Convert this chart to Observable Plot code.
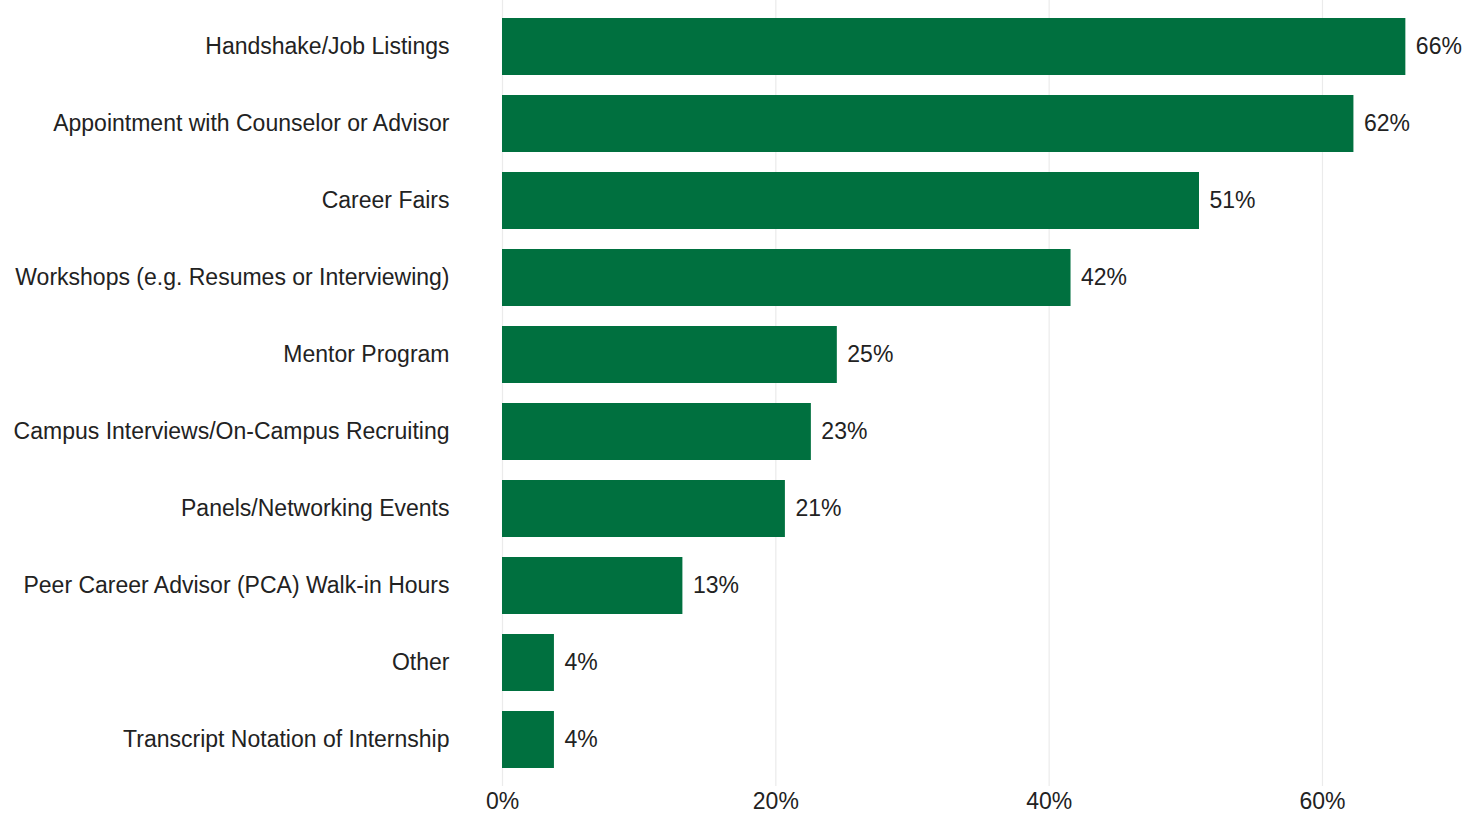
<!DOCTYPE html>
<html>
<head>
<meta charset="utf-8">
<script src="https://cdn.jsdelivr.net/npm/d3@7"></script>
<script src="https://cdn.jsdelivr.net/npm/@observablehq/plot@0.6"></script>
<style>
  html, body { margin: 0; padding: 0; background: #fff; }
  #chart svg { display: block; }
</style>
</head>
<body>
<div id="chart"></div>
<script>
const categories = [
  "Handshake/Job Listings",
  "Appointment with Counselor or Advisor",
  "Career Fairs",
  "Workshops (e.g. Resumes or Interviewing)",
  "Mentor Program",
  "Campus Interviews/On-Campus Recruiting",
  "Panels/Networking Events",
  "Peer Career Advisor (PCA) Walk-in Hours",
  "Other",
  "Transcript Notation of Internship"
];
const values = [0.661, 0.623, 0.510, 0.416, 0.245, 0.226, 0.207, 0.132, 0.038, 0.038];
const valueLabels = ["66%", "62%", "51%", "42%", "25%", "23%", "21%", "13%", "4%", "4%"];
const xTicks = [0, 0.2, 0.4, 0.6];

const data = categories.map((c, i) => ({category: c, value: values[i], label: valueLabels[i]}));

const chart = Plot.plot({
  width: 1471,
  height: 816,
  marginLeft: 502,
  marginRight: 20,
  marginTop: 0,
  marginBottom: 30,
  style: {fontFamily: "Arial, 'Liberation Sans', sans-serif", fontSize: "23px", color: "#222", background: "#fff"},
  x: {domain: [0, 0.6944], ticks: xTicks, tickFormat: d => Math.round(d * 100) + "%", grid: false, label: null},
  y: {domain: categories, paddingInner: 0.263, paddingOuter: 0.19, label: null},
  marks: [
    Plot.gridX(xTicks, {stroke: "#ebebeb", strokeOpacity: 1, strokeWidth: 1.2}),
    Plot.axisX({ticks: xTicks, tickSize: 0, tickPadding: 6, tickFormat: d => Math.round(d * 100) + "%", fontSize: 23, fill: "#222", label: null}),
    Plot.axisY({tickSize: 0, tickPadding: 53, fontSize: 23, fill: "#222", label: null}),
    Plot.barX(data, {x: "value", y: "category", fill: "#00703f"}),
    Plot.text(data, {x: "value", y: "category", text: "label", textAnchor: "start", dx: 10, fontSize: 23, fill: "#222"})
  ]
});
document.getElementById("chart").appendChild(chart);
</script>
</body>
</html>
